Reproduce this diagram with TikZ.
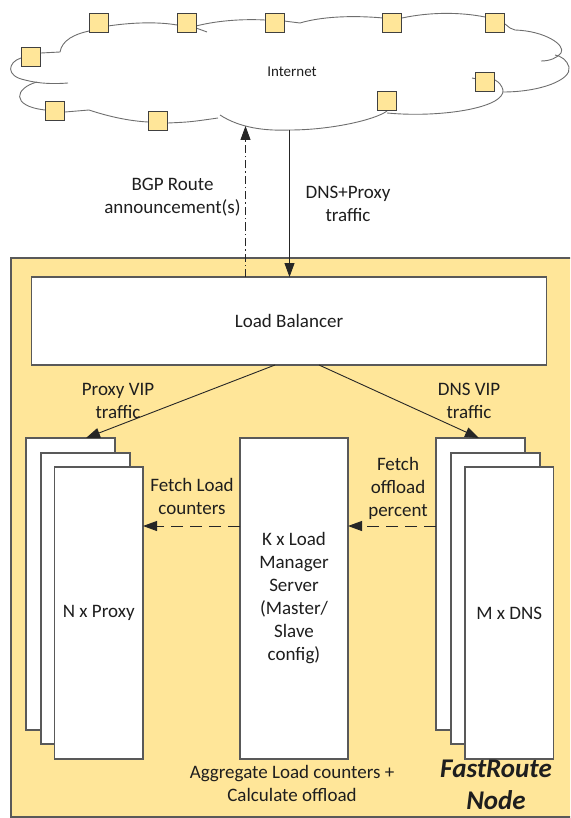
\documentclass[tikz,border=0pt]{standalone}
\usepackage{fontspec}
\setmainfont{Carlito}
\usetikzlibrary{arrows.meta}
\definecolor{ylw}{HTML}{FFE699}
\definecolor{edgec}{HTML}{595959}
\definecolor{cloudc}{HTML}{6E6E6E}
\definecolor{txt}{HTML}{1E1E1E}
\begin{document}
\begin{tikzpicture}[x=1pt,y=-1pt,
  every node/.style={font=\fontsize{19}{23}\selectfont, text=txt},
  wbox/.style={draw=edgec, line width=1.2pt, fill=white, inner sep=0pt, outer sep=0pt, anchor=north west, align=center},
  sqr/.style={draw=black!75, line width=0.9pt, fill=ylw, minimum size=19pt, inner sep=0pt, outer sep=0pt},
  cl/.style={draw=cloudc, line width=0.9pt},
  conn/.style={draw=black!85, line width=0.9pt},
  arrowtip/.style={-{Triangle[width=10pt,length=14pt]}},
  lbl/.style={align=center, inner sep=0pt}
]
\useasboundingbox (0,0) rectangle (570,818);
\clip (0,0) rectangle (570,818);

% FastRoute node frame
\node[draw=edgec, fill=ylw, line width=1.2pt, inner sep=0pt, outer sep=0pt,
      minimum width=589pt, minimum height=559pt, anchor=north west] (fr) at (11,258) {};

% cloud outline
\draw[cl] (21,58) .. controls (8,62) and (5,76) .. (25,80) .. controls (40,84) and (55,84) .. (68,83);
\draw[cl] (37,82) .. controls (15,88) and (10,106) .. (45,110);
\draw[cl] (65,112) -- (89,110) .. controls (110,117) and (130,121) .. (148,122);
\draw[cl] (168,123) .. controls (190,122) .. (218,118);
\draw[cl] (220,115) .. controls (240,128) and (265,131) .. (290,130) .. controls (330,130) and (375,120) .. (387,111);
\draw[cl] (387,113) .. controls (440,118) and (505,108) .. (503,90) .. controls (502,86) and (499,82) .. (495,80);
\draw[cl] (472,78) -- (477,79);
\draw[cl] (503,92) .. controls (540,92) and (572,80) .. (569,67) .. controls (567,60) and (561,56) .. (555,55);
\draw[cl] (505,24) -- (510,28) -- (515,30) .. controls (545,31) and (566,45) .. (561,53) .. controls (557,58) and (550,61) .. (541,61);
\draw[cl] (402,18) .. controls (430,12) and (460,12) .. (485,17);
\draw[cl] (284,21) -- (300,23) .. controls (320,17) and (350,15) .. (383,18);
\draw[cl] (196,26) .. controls (220,20) and (245,19) .. (265,20);
\draw[cl] (196,28) -- (207,32);
\draw[cl] (108,26) .. controls (135,22) and (160,22) .. (177,25);
\draw[cl] (41,53) -- (60,52) .. controls (62,40) and (75,34) .. (89,31);

\node[font=\fontsize{15}{18}\selectfont] (inet) at (292,72) {Internet};

% routers on the cloud
\node[sqr] (s1) at (99,23) {};
\node[sqr] (s2) at (187,23) {};
\node[sqr] (s3) at (275,23) {};
\node[sqr] (s4) at (392,23) {};
\node[sqr] (s5) at (495,23) {};
\node[sqr] (s6) at (31,57) {};
\node[sqr] (s7) at (485,82) {};
\node[sqr] (s8) at (387,101) {};
\node[sqr] (s9) at (55,111) {};
\node[sqr] (s10) at (158,121) {};

% boxes
\node[wbox, minimum width=515pt, minimum height=88pt] (lb) at (31.5,277) {Load Balancer};

\node[wbox, minimum width=89pt, minimum height=292pt] (p1) at (26,438) {};
\node[wbox, minimum width=89pt, minimum height=291pt] (p2) at (41,453) {};
\node[wbox, minimum width=88.5pt, minimum height=292pt] (p3) at (54.5,467) {N x Proxy};

\node[wbox, minimum width=108pt, minimum height=321pt] (lm) at (240,438) {K x Load\\Manager\\Server\\(Master/\\Slave\\config)};

\node[wbox, minimum width=89pt, minimum height=292pt] (d1) at (436,438) {};
\node[wbox, minimum width=89pt, minimum height=291pt] (d2) at (451,453) {};
\node[wbox, minimum width=88.5pt, minimum height=292pt] (d3) at (465,467) {M x DNS};

% connectors
\coordinate (bgpend) at (245.5,126);
\coordinate (trafstart) at (289.5,130);
\coordinate (dy) at (0,526);
\draw[conn, arrowtip, dash pattern=on 8pt off 3pt on 1.5pt off 3pt] (lb.north -| bgpend) -- (bgpend);
\draw[conn, arrowtip] (trafstart) -- (lb.north -| trafstart);
\draw[conn, arrowtip] ([xshift=-14pt]lb.south) -- ([xshift=15.5pt]p1.north);
\draw[conn, arrowtip] ([xshift=30pt]lb.south) -- ([xshift=-1.5pt]d1.north);
\draw[conn, arrowtip, dash pattern=on 12pt off 7pt] (lm.west |- dy) -- (p3.east |- dy);
\draw[conn, arrowtip, dash pattern=on 12pt off 7pt] (d1.west |- dy) -- (lm.east |- dy);

% labels
\node[lbl] (bgplbl) at (172.5,197.5) {BGP Route\\announcement(s)};
\node[lbl] (traflbl) at (348,204) {DNS+Proxy\\traffic};
\node[lbl] (pviplbl) at (118,400.5) {Proxy VIP\\traffic};
\node[lbl] (dviplbl) at (469,400.5) {DNS VIP\\traffic};
\node[lbl] (fetchl) at (192,496.5) {Fetch Load\\counters};
\node[lbl] (fetchr) at (398,488) {Fetch\\offload\\percent};
\node[lbl] (agg) at (292,783.5) {Aggregate Load counters +\\Calculate offload};
\node[lbl, font=\fontsize{27}{32}\selectfont\bfseries\itshape] (frlbl) at (496,785) {FastRoute\\Node};
\end{tikzpicture}
\end{document}
